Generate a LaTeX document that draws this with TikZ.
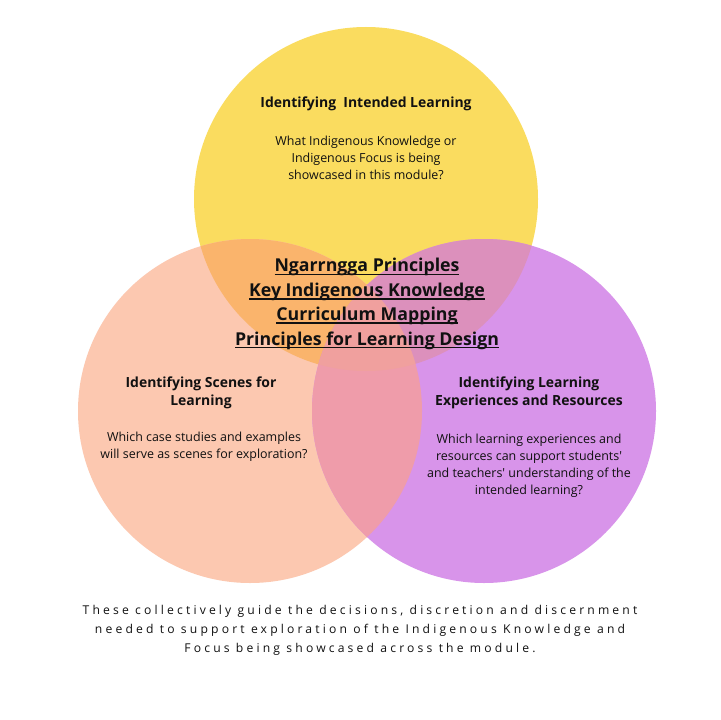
\documentclass[tikz,border=0pt]{standalone}
\usepackage{fontspec}
\setmainfont{Open Sans}
\newfontfamily\spacedfont[LetterSpace=26]{Open Sans}
\definecolor{cyel}{HTML}{FADC5F}
\definecolor{cpea}{HTML}{FCC8B0}
\definecolor{cpur}{HTML}{D894EA}
\definecolor{cyp}{HTML}{FAB46C}
\definecolor{cyu}{HTML}{DC90BC}
\definecolor{cpu}{HTML}{EF9CAA}
\definecolor{call}{HTML}{F0A09E}
\definecolor{ink}{HTML}{111111}
\newcommand\myul[1]{\setbox0\hbox{#1}\rlap{\rule[-3.2pt]{\wd0}{1.6pt}}\box0}
\begin{document}
\begin{tikzpicture}[x=1bp,y=-1bp,
  head/.style={font=\bfseries\fontsize{14}{18}\selectfont, text=ink, align=center},
  body/.style={font=\fontsize{12.5}{17.2}\selectfont, text=ink, align=center},
  title/.style={font=\bfseries\fontsize{17.8}{24.5}\selectfont, text=ink, align=center},
  foot/.style={font=\spacedfont\fontsize{12.2}{19}\selectfont, text=ink, align=center}]
\useasboundingbox (0,0) rectangle (720,720);
\fill[white] (0,0) rectangle (720,720);
\coordinate (cy) at (366,199);
\coordinate (cp) at (250,411);
\coordinate (cu) at (484,411);
\def\R{172}
\fill[cyel] (cy) circle (\R);
\fill[cpea] (cp) circle (\R);
\fill[cpur] (cu) circle (\R);
\begin{scope}
  \clip (cy) circle (\R);
  \fill[cyp] (cp) circle (\R);
  \fill[cyu] (cu) circle (\R);
\end{scope}
\begin{scope}
  \clip (cp) circle (\R);
  \fill[cpu] (cu) circle (\R);
  \clip (cu) circle (\R);
  \fill[call] (cy) circle (\R);
\end{scope}
\node[head] (h1) at (366,104) {Identifying\ \ Intended Learning};
\node[body] (b1) at (366,158) {What Indigenous Knowledge or\\Indigenous Focus is being\\showcased in this module?};
\node[title] (t) at (367,304) {\myul{Ngarrngga Principles}\\\myul{Key Indigenous Knowledge}\\\myul{Curriculum Mapping}\\\myul{Principles for Learning Design}};
\node[head] (h2) at (201,393) {Identifying Scenes for\\Learning};
\node[body] (b2) at (204,447) {Which case studies and examples\\will serve as scenes for exploration?};
\node[head] (h3) at (529,393) {Identifying Learning\\Experiences and Resources};
\node[body] (b3) at (529,466) {Which learning experiences and\\resources can support students\textquotesingle\\and teachers\textquotesingle\ understanding of the\\intended learning?};
\node[foot] (f) at (360,630) {These collectively guide the decisions, discretion and discernment\\needed to support exploration of the Indigenous Knowledge and\\Focus being showcased across the module.};
\end{tikzpicture}
\end{document}
